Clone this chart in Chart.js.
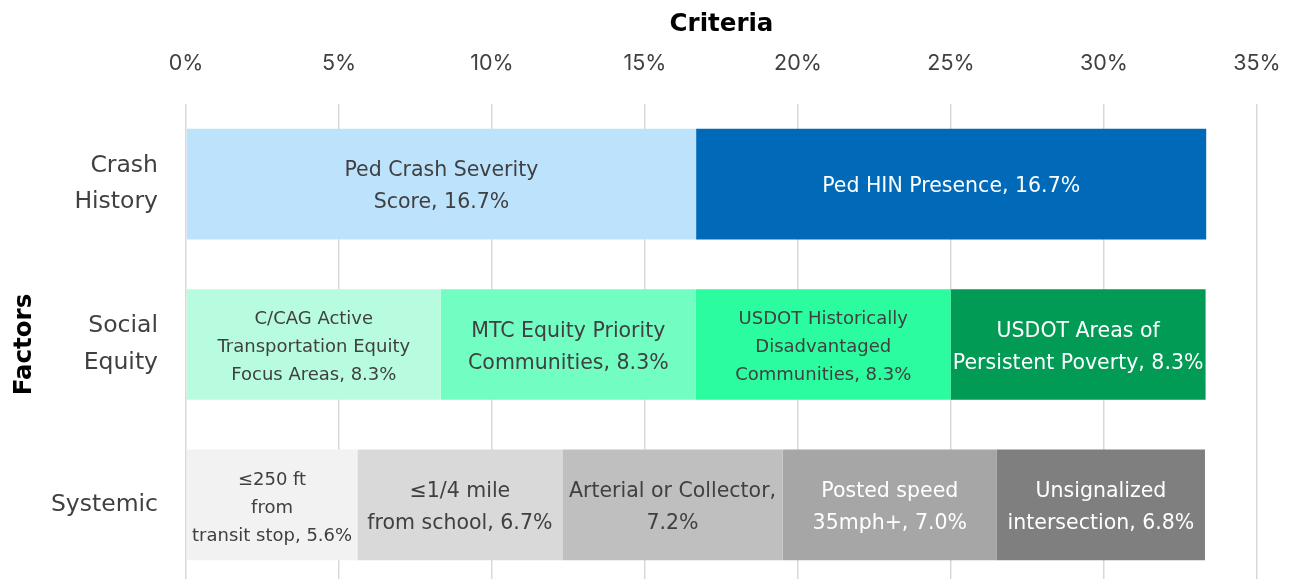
<!DOCTYPE html>
<html>
<head>
<meta charset="utf-8">
<script src="https://cdn.jsdelivr.net/npm/chart.js@4/dist/chart.umd.min.js"></script>
<style>
  html, body { margin: 0; padding: 0; background: #fff; overflow: hidden; }
  canvas { display: block; }
</style>
</head>
<body>
<canvas id="chart" width="1289" height="585"></canvas>
<script>
// --- Data ---
const categories = [["Crash", "History"], ["Social", "Equity"], "Systemic"];

// segment values per factor (percent of total)
const crashValues = [16.67, 16.67];
const equityValues = [8.33, 8.33, 8.33, 8.33];
const systemicValues = [5.6, 6.7, 7.2, 7.0, 6.8];

// segment labels, "{v}" is replaced by the formatted value
const crashLabels = [
  ["Ped Crash Severity", "Score, {v}"],
  ["Ped HIN Presence, {v}"],
];
const equityLabels = [
  ["C/CAG Active", "Transportation Equity", "Focus Areas, {v}"],
  ["MTC Equity Priority", "Communities, {v}"],
  ["USDOT Historically", "Disadvantaged", "Communities, {v}"],
  ["USDOT Areas of", "Persistent Poverty, {v}"],
];
const systemicLabels = [
  ["\u2264250 ft", "from", "transit stop, {v}"],
  ["\u22641/4 mile", "from school, {v}"],
  ["Arterial or Collector,", "{v}"],
  ["Posted speed", "35mph+, {v}"],
  ["Unsignalized", "intersection, {v}"],
];

const crashColors = ["#BDE3FC", "#006AB8"];
const equityColors = ["#B8FCE0", "#72FDC2", "#2BFC9F", "#019B56"];
const systemicColors = ["#F2F2F2", "#D9D9D9", "#BFBFBF", "#A6A6A6", "#7F7F7F"];

const crashText = ["#404040", "#FFFFFF"];
const equityText = ["#404040", "#404040", "#404040", "#FFFFFF"];
const systemicText = ["#404040", "#404040", "#404040", "#FFFFFF", "#FFFFFF"];

const xTicks = [0, 5, 10, 15, 20, 25, 30, 35];

// --- Build datasets: one per segment position ---
const rows = [
  { values: crashValues, labels: crashLabels, colors: crashColors, text: crashText },
  { values: equityValues, labels: equityLabels, colors: equityColors, text: equityText },
  { values: systemicValues, labels: systemicLabels, colors: systemicColors, text: systemicText },
];
const maxSegments = Math.max(...rows.map((r) => r.values.length));
const datasets = [];
for (let s = 0; s < maxSegments; s++) {
  datasets.push({
    data: rows.map((r) => (s < r.values.length ? r.values[s] : null)),
    backgroundColor: rows.map((r) => r.colors[s] || "transparent"),
    segLabels: rows.map((r) => r.labels[s] || null),
    segText: rows.map((r) => r.text[s] || "#404040"),
    borderWidth: 0,
    barPercentage: 0.69,
    categoryPercentage: 1.0,
  });
}

const FONT = "'DejaVu Sans', sans-serif";

// draws the multi-line labels centred in each bar segment
const segmentLabels = {
  id: "segmentLabels",
  afterDatasetsDraw(chart) {
    const ctx = chart.ctx;
    chart.data.datasets.forEach((ds, di) => {
      const meta = chart.getDatasetMeta(di);
      meta.data.forEach((bar, i) => {
        const v = ds.data[i];
        const lines = ds.segLabels[i];
        if (v == null || !lines) return;
        const { x, y, base } = bar.getProps(["x", "y", "base"], true);
        const cx = (x + base) / 2;
        const txt = lines.map((l) => l.replace("{v}", v.toFixed(1) + "%"));
        const size = txt.length > 2 ? 18 : 20.5;
        const lh = txt.length > 2 ? 28 : 32;
        ctx.save();
        ctx.font = size + "px " + FONT;
        ctx.fillStyle = ds.segText[i];
        ctx.textAlign = "center";
        ctx.textBaseline = "middle";
        const y0 = y + 3 - ((txt.length - 1) * lh) / 2;
        txt.forEach((t, k) => ctx.fillText(t, cx, y0 + k * lh));
        ctx.restore();
      });
    });
  },
};

new Chart(document.getElementById("chart"), {
  type: "bar",
  data: { labels: categories, datasets: datasets },
  options: {
    indexAxis: "y",
    responsive: false,
    animation: false,
    layout: { padding: { left: 0, right: 32, top: 0, bottom: 0 } },
    plugins: {
      legend: { display: false },
      tooltip: { enabled: false },
    },
    scales: {
      x: {
        position: "top",
        stacked: true,
        min: 0,
        max: 35,
        afterBuildTicks: (scale) => {
          scale.ticks = xTicks.map((v) => ({ value: v }));
        },
        afterFit: (scale) => {
          scale.height = 104;
          scale.paddingLeft = 0;
          scale.paddingRight = 0;
        },
        ticks: {
          callback: (v) => v + "%",
          color: "#404040",
          font: { family: "Inter, sans-serif", size: 21.5 },
          padding: 28,
          maxRotation: 0,
        },
        grid: { color: "#D9D9D9", lineWidth: 1.5, drawTicks: false },
        border: { display: false },
        title: {
          display: true,
          text: "Criteria",
          color: "#000",
          font: { family: FONT, size: 24.5, weight: "bold" },
          padding: { top: 10, bottom: 0 },
        },
      },
      y: {
        stacked: true,
        afterFit: (scale) => {
          scale.width = 186;
          scale.paddingTop = 0;
          scale.paddingBottom = 0;
        },
        ticks: {
          color: "#404040",
          font: { family: FONT, size: 23.5, lineHeight: 1.55 },
          padding: 28,
        },
        grid: { display: false, drawTicks: false },
        border: { display: false },
        title: {
          display: true,
          text: "Factors",
          color: "#000",
          font: { family: FONT, size: 24.5, weight: "bold" },
          padding: { top: 10, bottom: 0 },
        },
      },
    },
  },
  plugins: [segmentLabels],
});
</script>
</body>
</html>
